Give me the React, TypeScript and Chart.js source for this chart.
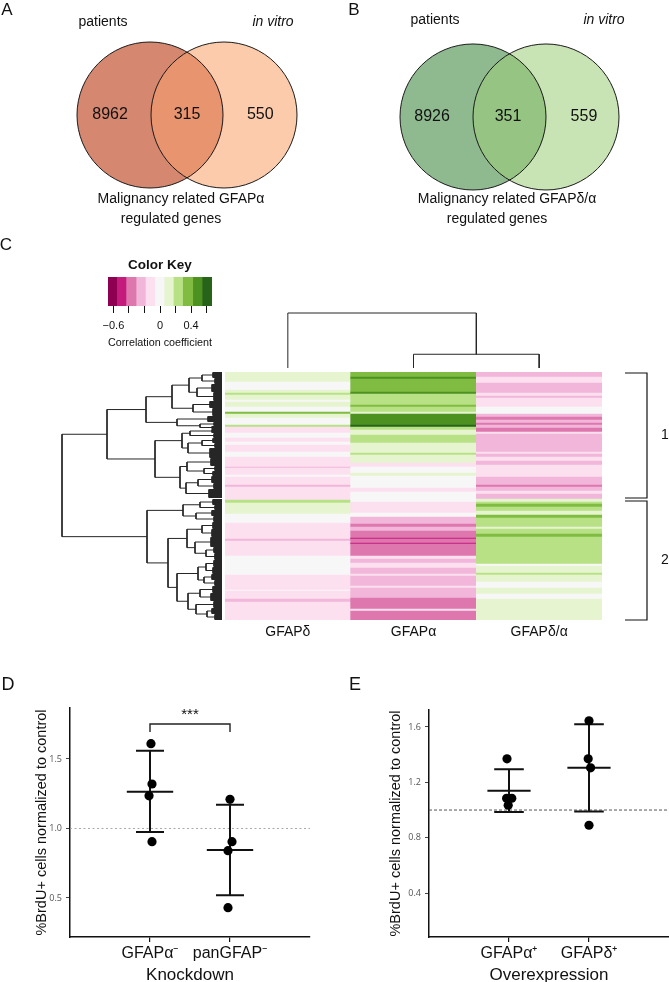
import React, { useEffect, useRef } from 'react';
import Chart from 'chart.js/auto';

const FONT = '"Liberation Sans", Arial, sans-serif';
const NARROW = '"Liberation Sans Narrow", "Liberation Sans", Arial, sans-serif';
const TICKFONT = '"Open Sans", "DejaVu Sans", sans-serif';
Chart.defaults.font.family = FONT;

// ---------------- Panel A / B (Venn) ----------------
const vennASets = ['patients', 'in vitro'];
const vennACounts = [8962, 315, 550];
const vennACaption = ['Malignancy related GFAPα', 'regulated genes'];
const vennBSets = ['patients', 'in vitro'];
const vennBCounts = [8926, 351, 559];
const vennBCaption = ['Malignancy related GFAPδ/α', 'regulated genes'];

// ---------------- Panel C (heatmap) ----------------
const heatColumns = ['GFAPδ', 'GFAPα', 'GFAPδ/α'];
const heatRowCount = 248;
// runs of rows: [fromRow, toRow, correlation]
const runsDelta: number[][] = [
  [0, 10, 0.12], [10, 18, 0], [18, 21, 0.12], [21, 23, 0.24], [23, 28, 0.12], [28, 30, 0],
  [30, 35, 0.12], [35, 40, 0], [40, 42, 0.36], [42, 46, 0.12], [46, 53, 0], [53, 55, 0.24],
  [55, 61, -0.12], [61, 66, 0], [66, 70, -0.12], [70, 73, 0], [73, 80, -0.12], [80, 85, 0],
  [85, 95, -0.12], [95, 96, -0.24], [96, 103, -0.12], [103, 105, 0], [105, 113, -0.12],
  [113, 115, -0.24], [115, 128, -0.12], [128, 131, 0.24], [131, 142, 0.12], [142, 151, 0],
  [151, 167, -0.12], [167, 169, -0.24], [169, 184, -0.12], [184, 203, 0], [203, 218, -0.12],
  [218, 219, 0], [219, 227, -0.12], [227, 230, -0.24], [230, 248, -0.12],
];
const runsAlpha: number[][] = [
  [0, 5, 0.36], [5, 7, 0.48], [7, 20, 0.36], [20, 22, 0.48], [22, 33, 0.24], [33, 35, 0.36],
  [35, 40, 0.24], [40, 42, 0.12], [42, 53, 0.48], [53, 55, 0.6], [55, 58, 0.24], [58, 63, 0.12],
  [63, 71, 0.24], [71, 81, 0.12], [81, 83, 0.24], [83, 91, 0.12], [91, 95, -0.12], [95, 101, 0],
  [101, 104, 0.12], [104, 116, 0], [116, 120, -0.12], [120, 130, 0], [130, 141, -0.12],
  [141, 145, 0], [145, 152, -0.24], [152, 155, -0.36], [155, 159, -0.24], [159, 166, -0.36],
  [166, 167, -0.48], [167, 171, -0.36], [171, 172, -0.48], [172, 184, -0.36], [184, 187, -0.12],
  [187, 191, -0.24], [191, 196, -0.12], [196, 202, -0.24], [202, 204, -0.12], [204, 214, -0.24],
  [214, 216, -0.12], [216, 226, -0.24], [226, 237, -0.36], [237, 239, -0.12], [239, 248, -0.36],
];
const runsDeltaAlpha: number[][] = [
  [0, 5, -0.24], [5, 11, -0.12], [11, 21, -0.24], [21, 24, -0.12], [24, 26, -0.24], [26, 35, -0.12],
  [35, 42, 0], [42, 45, -0.24], [45, 48, -0.36], [48, 51, -0.24], [51, 53, -0.36], [53, 56, -0.24],
  [56, 60, -0.36], [60, 62, -0.12], [62, 80, -0.24], [80, 82, -0.12], [82, 85, -0.24], [85, 89, -0.12],
  [89, 93, -0.24], [93, 105, -0.12], [105, 113, -0.24], [113, 115, -0.36], [115, 119, -0.24],
  [119, 122, -0.12], [122, 127, -0.24], [127, 130, 0.12], [130, 132, 0.24], [132, 135, 0.36],
  [135, 139, 0.24], [139, 143, 0.12], [143, 146, 0.36], [146, 155, 0.24], [155, 157, 0.12],
  [157, 162, 0.24], [162, 165, 0.36], [165, 192, 0.24], [192, 194, 0], [194, 201, 0.12],
  [201, 203, 0.24], [203, 210, 0.12], [210, 216, 0], [216, 222, 0.12], [222, 227, 0], [227, 248, 0.12],
];
const keyBreaks = [-0.67, -0.55, -0.43, -0.3, -0.18, -0.06, 0.06, 0.18, 0.3, 0.43, 0.55, 0.67];
const keyColors = ['#8e0152', '#c51b7d', '#de77ae', '#f1b6da', '#fde0ef', '#f7f7f7', '#e6f5d0', '#b8e186', '#7fbc41', '#4d9221', '#276419'];
const keyTickValues = [-0.6, -0.4, -0.2, 0, 0.2, 0.4, 0.6];
const keyTickLabels = ['−0.6', '', '', '0', '', '0.4', ''];
const rowClusters = [
  { label: '1', from: 1, to: 126 },
  { label: '2', from: 129, to: 248 },
];

type TNode = { h: number; kids?: TNode[]; rows?: number[] };
const N = (h: number, a: TNode, b: TNode): TNode => ({ h, kids: [a, b] });
const L = (h: number, r0: number, r1: number): TNode => ({ h, rows: [r0, r1] });

const rowTree: TNode = N(160,
  N(115,
    N(76,
      N(50,
        N(33, N(20, L(9, 0, 6), L(7, 6, 12)), N(25, L(10, 12, 20), L(8, 20, 29))),
        N(29, L(12, 29, 36), L(9, 36, 44))),
      N(45, L(14, 44, 50), N(22, L(8, 50, 54), L(10, 54, 57)))),
    N(67,
      N(40,
        N(32, L(10, 57, 61), L(8, 61, 66)),
        N(34, N(20, L(9, 66, 71), L(7, 71, 76)), L(12, 76, 86))),
      N(42,
        N(35, L(11, 86, 94), N(18, L(7, 94, 99), L(9, 99, 104))),
        N(36, N(24, L(10, 104, 111), L(8, 111, 117)), L(13, 117, 126))))),
  N(75,
    N(39, N(22, L(9, 127, 133), L(7, 133, 138)), N(26, L(10, 138, 144), L(8, 144, 150))),
    N(54,
      N(35,
        N(20, L(9, 150, 157), L(10, 157, 165)),
        N(27, L(11, 165, 175), N(16, L(8, 175, 181), L(7, 181, 188)))),
      N(45,
        N(24, N(16, L(8, 188, 195), L(9, 195, 202)), N(18, L(10, 202, 208), L(7, 208, 214))),
        N(34,
          N(22, L(9, 214, 221), L(11, 221, 229)),
          N(26, L(8, 229, 236), N(15, L(10, 236, 242), L(7, 242, 248))))))));

const colTree: TNode = N(1.0, L(0, -0.5, 0.5), N(0.25, L(0, 0.5, 1.5), L(0, 1.5, 2.5)));

// ---------------- Panel D / E ----------------
const kdGroups = ['GFAPα⁻', 'panGFAP⁻'];
const kdValues = [[1.61, 1.32, 1.235, 0.905], [1.21, 0.905, 0.84, 0.43]];
const kdJitter = [[0.012, 0.025, -0.012, 0.025], [0, 0.025, -0.025, -0.025]];
const kdMean = [1.265, 0.845];
const kdUpper = [1.56, 1.17];
const kdLower = [0.975, 0.52];
const kdTicks = [0.5, 1.0, 1.5];

const oeGroups = ['GFAPα⁺', 'GFAPδ⁺'];
const oeValues = [[1.37, 1.085, 1.085, 1.035], [1.645, 1.37, 1.305, 0.89]];
const oeJitter = [[-0.025, 0.035, -0.03, -0.01], [0, -0.01, 0.02, 0]];
const oeMean = [1.14, 1.305];
const oeUpper = [1.295, 1.62];
const oeLower = [0.985, 0.99];
const oeTicks = [0.4, 0.8, 1.2, 1.6];

// ---------------- helpers ----------------
const baseOpts = {
  animation: false as const,
  responsive: false,
  devicePixelRatio: 1,
  events: [] as any[],
};

function keyColorFor(v: number) {
  for (let i = 0; i < keyColors.length; i++) if (v < keyBreaks[i + 1]) return keyColors[i];
  return keyColors[keyColors.length - 1];
}

function centerOf(n: TNode): number {
  if (n.rows) return (n.rows[0] + n.rows[1]) / 2;
  return (centerOf(n.kids![0]) + centerOf(n.kids![1])) / 2;
}

function dendroPaths(n: TNode, out: { p: number; h: number }[][]) {
  if (n.rows) {
    const [r0, r1] = n.rows;
    if (r1 - r0 > 1) out.push([{ p: r0 + 0.5, h: n.h }, { p: r1 - 0.5, h: n.h }]);
    if (n.h > 0) for (let r = r0; r < r1; r++) out.push([{ p: r + 0.5, h: n.h }, { p: r + 0.5, h: 0 }]);
    return;
  }
  const [a, b] = n.kids!;
  const ca = centerOf(a);
  const cb = centerOf(b);
  out.push([{ p: ca, h: a.h }, { p: ca, h: n.h }, { p: cb, h: n.h }, { p: cb, h: b.h }]);
  dendroPaths(a, out);
  dendroPaths(b, out);
}

function drawText(ctx: CanvasRenderingContext2D, text: string, x: number, y: number, font: string, align: CanvasTextAlign = 'center', color = '#111') {
  ctx.save();
  ctx.font = font;
  ctx.fillStyle = color;
  ctx.textAlign = align;
  ctx.textBaseline = 'middle';
  ctx.fillText(text, x, y);
  ctx.restore();
}

function makeVenn(canvas: HTMLCanvasElement, sets: string[], counts: number[], caption: string[], lay: any) {
  const r = lay.radius;
  return new Chart(canvas, {
    type: 'scatter',
    data: {
      datasets: sets.map((name, i) => ({
        label: name,
        data: [{ x: i, y: 0 }],
        pointRadius: r,
        pointHoverRadius: r,
        pointBackgroundColor: lay.colors[i],
        pointBorderWidth: 0,
        clip: false as any,
      })),
    },
    options: {
      ...baseOpts,
      layout: { padding: 0, autoPadding: false },
      plugins: { legend: { display: false }, tooltip: { enabled: false } },
      scales: {
        x: { type: 'linear', display: false, min: lay.xMin, max: lay.xMax },
        y: { type: 'linear', display: false, min: lay.yMin, max: lay.yMax },
      },
    },
    plugins: [{
      id: 'venn',
      afterDatasetsDraw(chart: any) {
        const ctx = chart.ctx as CanvasRenderingContext2D;
        const p0 = chart.getDatasetMeta(0).data[0];
        const p1 = chart.getDatasetMeta(1).data[0];
        ctx.save();
        ctx.beginPath();
        ctx.arc(p0.x, p0.y, r, 0, Math.PI * 2);
        ctx.clip();
        ctx.beginPath();
        ctx.arc(p1.x, p1.y, r, 0, Math.PI * 2);
        ctx.fillStyle = lay.overlap;
        ctx.fill();
        ctx.restore();
        ctx.save();
        ctx.strokeStyle = '#1a1a1a';
        ctx.lineWidth = 1;
        [p0, p1].forEach((p: any) => { ctx.beginPath(); ctx.arc(p.x, p.y, r, 0, Math.PI * 2); ctx.stroke(); });
        ctx.restore();
        const xs = chart.scales.x;
        counts.forEach((n, i) => drawText(ctx, String(n), xs.getPixelForValue(lay.countAt[i]), p0.y, `16px ${FONT}`));
        sets.forEach((s, i) => drawText(ctx, s, lay.setPos[i][0], lay.setPos[i][1], `${lay.setItalic[i] ? 'italic ' : ''}14px ${FONT}`));
        caption.forEach((s, i) => drawText(ctx, s, lay.capPos[i][0], lay.capPos[i][1], `14px ${FONT}`));
        drawText(ctx, lay.letter, lay.letterPos[0], lay.letterPos[1], `17px ${FONT}`);
      },
    }],
  } as any);
}

function makeKey(canvas: HTMLCanvasElement) {
  const data = keyColors.map((_, i) => ({ y: 'key', x: [keyBreaks[i], keyBreaks[i + 1]] }));
  return new Chart(canvas, {
    type: 'bar',
    data: {
      labels: ['key'],
      datasets: [{ data, backgroundColor: keyColors, borderWidth: 0, barPercentage: 1, categoryPercentage: 1 }],
    },
    options: {
      ...baseOpts,
      indexAxis: 'y',
      layout: { padding: { left: 108, top: 42, right: 28, bottom: 0 }, autoPadding: false },
      plugins: { legend: { display: false }, tooltip: { enabled: false } },
      scales: {
        x: {
          type: 'linear', min: keyBreaks[0], max: keyBreaks[keyBreaks.length - 1],
          afterBuildTicks: (s: any) => { s.ticks = keyTickValues.map((v) => ({ value: v })); },
          ticks: {
            autoSkip: false, maxRotation: 0, padding: 6, color: '#111', font: { family: FONT, size: 11 },
            callback: (v: any) => {
              const i = keyTickValues.findIndex((t) => Math.abs(t - Number(v)) < 1e-6);
              return i >= 0 ? keyTickLabels[i] : '';
            },
          },
          grid: { drawOnChartArea: false, drawTicks: true, tickLength: 7, color: '#111', lineWidth: 1 },
          border: { display: false },
          title: { display: true, text: 'Correlation coefficient', color: '#111', font: { family: NARROW, size: 11 }, padding: { top: 0, bottom: 5 } },
          afterFit: (s: any) => { s.height = 49; },
        },
        y: { display: false },
      },
    },
    plugins: [{
      id: 'keyText',
      afterDraw(chart: any) {
        const a = chart.chartArea;
        drawText(chart.ctx, 'Color Key', (a.left + a.right) / 2, a.top - 12, `bold 13.5px ${FONT}`);
        drawText(chart.ctx, 'C', 6, 10, `17px ${FONT}`);
      },
    }],
  } as any);
}

function makeDendro(canvas: HTMLCanvasElement, tree: TNode, horizontal: boolean, cfg: any) {
  const paths: { p: number; h: number }[][] = [];
  dendroPaths(tree, paths);
  const data: { x: number; y: number }[] = [];
  paths.forEach((path) => {
    path.forEach((q) => data.push(horizontal ? { x: q.h, y: q.p } : { x: q.p, y: q.h }));
    data.push({ x: NaN, y: NaN });
  });
  return new Chart(canvas, {
    type: 'scatter',
    data: { datasets: [{ data, showLine: true, spanGaps: false, borderColor: '#262626', borderWidth: 1, pointRadius: 0, clip: false as any }] },
    options: {
      ...baseOpts,
      layout: { padding: cfg.padding, autoPadding: false },
      plugins: { legend: { display: false }, tooltip: { enabled: false } },
      scales: {
        x: { type: 'linear', display: false, min: cfg.xMin, max: cfg.xMax, reverse: !!cfg.xReverse },
        y: { type: 'linear', display: false, min: cfg.yMin, max: cfg.yMax, reverse: !!cfg.yReverse },
      },
    },
  } as any);
}

function makeHeat(canvas: HTMLCanvasElement) {
  const data: any[] = [];
  [runsDelta, runsAlpha, runsDeltaAlpha].forEach((runs, ci) =>
    runs.forEach(([s, e, v]) => data.push({ x: heatColumns[ci], y: [s, e], v })));
  return new Chart(canvas, {
    type: 'bar',
    data: {
      labels: heatColumns,
      datasets: [{ data, backgroundColor: data.map((d) => keyColorFor(d.v)), borderWidth: 0, barPercentage: 1, categoryPercentage: 1 }],
    },
    options: {
      ...baseOpts,
      layout: { padding: { left: 0, right: 67, top: 0, bottom: 0 }, autoPadding: false },
      plugins: { legend: { display: false }, tooltip: { enabled: false } },
      scales: {
        x: {
          type: 'category',
          grid: { display: false, drawTicks: false },
          border: { display: false },
          ticks: { color: '#111', font: { family: FONT, size: 14 }, padding: 4, maxRotation: 0 },
          afterFit: (s: any) => { s.height = 27; },
        },
        y: { type: 'linear', display: false, min: 0, max: heatRowCount, reverse: true },
      },
    },
    plugins: [{
      id: 'brackets',
      afterDraw(chart: any) {
        const ctx = chart.ctx as CanvasRenderingContext2D;
        const ys = chart.scales.y;
        const right = chart.chartArea.right;
        ctx.save();
        ctx.strokeStyle = '#111';
        ctx.lineWidth = 1.2;
        rowClusters.forEach((c) => {
          const y0 = ys.getPixelForValue(c.from);
          const y1 = ys.getPixelForValue(c.to);
          ctx.beginPath();
          ctx.moveTo(right + 23, y0);
          ctx.lineTo(right + 45, y0);
          ctx.lineTo(right + 45, y1);
          ctx.lineTo(right + 23, y1);
          ctx.stroke();
          drawText(ctx, c.label, right + 63, (y0 + y1) / 2, `14px ${FONT}`);
        });
        ctx.restore();
      },
    }],
  } as any);
}

function makeDots(canvas: HTMLCanvasElement, cfg: any) {
  const pts: any[] = [];
  cfg.values.forEach((vals: number[], g: number) => vals.forEach((v, k) => pts.push({ x: g + 1 + cfg.jitter[g][k], y: v })));
  const bars: any[] = [];
  cfg.mean.forEach((m: number, g: number) => {
    const c = g + 1;
    const up = cfg.upper[g];
    const lo = cfg.lower[g];
    bars.push({ x: c - cfg.meanHalf, y: m }, { x: c + cfg.meanHalf, y: m }, { x: NaN, y: NaN });
    bars.push({ x: c, y: lo }, { x: c, y: up }, { x: NaN, y: NaN });
    bars.push({ x: c - cfg.capHalf, y: up }, { x: c + cfg.capHalf, y: up }, { x: NaN, y: NaN });
    bars.push({ x: c - cfg.capHalf, y: lo }, { x: c + cfg.capHalf, y: lo }, { x: NaN, y: NaN });
  });
  const datasets: any[] = [
    { data: pts, pointRadius: 4.6, pointBackgroundColor: '#000', pointBorderWidth: 0, showLine: false, clip: false },
    { data: bars, showLine: true, spanGaps: false, borderColor: '#111', borderWidth: 2, pointRadius: 0, clip: false },
  ];
  if (cfg.bracket) {
    const b = cfg.bracket;
    datasets.push({
      data: [{ x: b.from, y: b.leg }, { x: b.from, y: b.y }, { x: b.to, y: b.y }, { x: b.to, y: b.leg }],
      showLine: true, borderColor: '#222', borderWidth: 1.4, pointRadius: 0, clip: false,
    });
  }
  datasets.push({
    data: [{ x: 0, y: 1 }, { x: 3, y: 1 }], showLine: true, borderColor: cfg.refColor, borderDash: cfg.refDash,
    borderWidth: 1, pointRadius: 0, clip: false,
  });
  return new Chart(canvas, {
    type: 'scatter',
    data: { datasets },
    options: {
      ...baseOpts,
      layout: { padding: { left: 0, top: cfg.padTop, right: cfg.padRight, bottom: 0 }, autoPadding: false },
      plugins: { legend: { display: false }, tooltip: { enabled: false } },
      scales: {
        x: {
          type: 'linear', min: 0, max: 3,
          afterBuildTicks: (s: any) => { s.ticks = cfg.groups.map((_: any, i: number) => ({ value: i + 1 })); },
          ticks: {
            autoSkip: false, maxRotation: 0, padding: 2, color: '#111', font: { family: FONT, size: 16 },
            callback: (v: any) => cfg.groups[Math.round(Number(v)) - 1] ?? '',
          },
          grid: { drawOnChartArea: false, drawTicks: true, tickLength: 5, color: '#111', lineWidth: 1.2 },
          border: { display: true, color: '#111', width: 1.5 },
          title: { display: true, text: cfg.xTitle, color: '#111', font: { family: FONT, size: 17, lineHeight: 1 }, padding: { top: 0, bottom: -1.5 } },
          afterFit: (s: any) => { s.height = 45; },
        },
        y: {
          type: 'linear', min: cfg.yMin, max: cfg.yMax,
          afterBuildTicks: (s: any) => { s.ticks = cfg.yTicks.map((v: number) => ({ value: v })); },
          ticks: { padding: 4, color: '#555', font: { family: TICKFONT, size: 9 }, callback: (v: any) => Number(v).toFixed(1) },
          grid: { drawOnChartArea: false, drawTicks: true, tickLength: 4, color: '#444', lineWidth: 1 },
          border: { display: true, color: '#111', width: 1.5 },
          title: { display: true, text: '%BrdU+ cells normalized to control', color: '#111', font: { family: FONT, size: 14.5 }, padding: { top: cfg.yTitlePad, bottom: 0 } },
          afterFit: (s: any) => { s.width = cfg.yAxisWidth; },
        },
      },
    },
    plugins: [{
      id: 'dotText',
      afterDraw(chart: any) {
        const ctx = chart.ctx as CanvasRenderingContext2D;
        if (cfg.bracket) {
          const xs = chart.scales.x;
          const ys = chart.scales.y;
          drawText(ctx, cfg.bracket.label, xs.getPixelForValue((cfg.bracket.from + cfg.bracket.to) / 2), ys.getPixelForValue(cfg.bracket.labelY), `15px ${FONT}`);
        }
        drawText(ctx, cfg.letter, cfg.letterPos[0], cfg.letterPos[1], `18px ${FONT}`);
      },
    }],
  } as any);
}

const canvasSpecs = [
  { key: 'vennA', left: 0, top: 0, w: 334, h: 230 },
  { key: 'vennB', left: 334, top: 0, w: 335, h: 230 },
  { key: 'key', left: 0, top: 235, w: 240, h: 120 },
  { key: 'colDendro', left: 225, top: 305, w: 377, h: 67 },
  { key: 'rowDendro', left: 50, top: 372, w: 175, h: 248 },
  { key: 'heat', left: 225, top: 372, w: 444, h: 275 },
  { key: 'kd', left: 0, top: 670, w: 334, h: 312 },
  { key: 'oe', left: 334, top: 670, w: 335, h: 312 },
];

export default function App() {
  const refs = useRef<Record<string, HTMLCanvasElement | null>>({});
  useEffect(() => {
    const c = refs.current;
    const charts: Chart[] = [];
    charts.push(makeVenn(c.vennA!, vennASets, vennACounts, vennACaption, {
      radius: 73, xMin: -150 / 74, xMax: -150 / 74 + 334 / 74, yMin: -1, yMax: 1,
      colors: ['#d5876f', '#fccbac'], overlap: '#e8946f', countAt: [-0.54, 0.5, 1.49],
      setPos: [[103, 22], [273, 22]], setItalic: [false, true],
      capPos: [[181, 199], [171, 219]], letter: 'A', letterPos: [7, 10],
    }));
    charts.push(makeVenn(c.vennB!, vennBSets, vennBCounts, vennBCaption, {
      radius: 73, xMin: -139 / 73, xMax: -139 / 73 + 335 / 73, yMin: -1, yMax: 1.035,
      colors: ['#8fba8f', '#c8e4b4'], overlap: '#96c482', countAt: [-0.56, 0.48, 1.52],
      setPos: [[101, 20], [270, 20]], setItalic: [false, true],
      capPos: [[173, 199], [163, 219]], letter: 'B', letterPos: [20, 10],
    }));
    charts.push(makeKey(c.key!));
    charts.push(makeDendro(c.colDendro!, colTree, false, {
      padding: { left: 0, right: 0, top: 8, bottom: 4 }, xMin: -0.5, xMax: 2.5, yMin: 0, yMax: 1,
    }));
    charts.push(makeDendro(c.rowDendro!, rowTree, true, {
      padding: { left: 12, right: 3, top: 0, bottom: 0 }, xMin: 0, xMax: 160, xReverse: true,
      yMin: 0, yMax: heatRowCount, yReverse: true,
    }));
    charts.push(makeHeat(c.heat!));
    charts.push(makeDots(c.kd!, {
      groups: kdGroups, values: kdValues, jitter: kdJitter, mean: kdMean, upper: kdUpper, lower: kdLower,
      yTicks: kdTicks, yMin: 0.219, yMax: 1.867, meanHalf: 0.29, capHalf: 0.175,
      refColor: '#a8a8a8', refDash: [2, 2.5], xTitle: 'Knockdown',
      padTop: 38, padRight: 24, yAxisWidth: 70, yTitlePad: 33.3,
      bracket: { from: 1, to: 2, y: 1.752, leg: 1.695, label: '***', labelY: 1.82 },
      letter: 'D', letterPos: [8, 15],
    }));
    charts.push(makeDots(c.oe!, {
      groups: oeGroups, values: oeValues, jitter: oeJitter, mean: oeMean, upper: oeUpper, lower: oeLower,
      yTicks: oeTicks, yMin: 0.083, yMax: 1.7225, meanHalf: 0.27, capHalf: 0.185,
      refColor: '#555', refDash: [3, 2], xTitle: 'Overexpression',
      padTop: 40, padRight: 0, yAxisWidth: 95, yTitlePad: 53.3,
      letter: 'E', letterPos: [21, 15],
    }));
    return () => charts.forEach((ch) => ch.destroy());
  }, []);
  return (
    <div style={{ position: 'absolute', left: 0, top: 0, width: 669, height: 982, background: '#fff', overflow: 'hidden' }}>
      {canvasSpecs.map((s) => (
        <canvas
          key={s.key}
          ref={(el) => { refs.current[s.key] = el; }}
          width={s.w}
          height={s.h}
          style={{ position: 'absolute', left: s.left, top: s.top, width: s.w, height: s.h }}
        />
      ))}
    </div>
  );
}
